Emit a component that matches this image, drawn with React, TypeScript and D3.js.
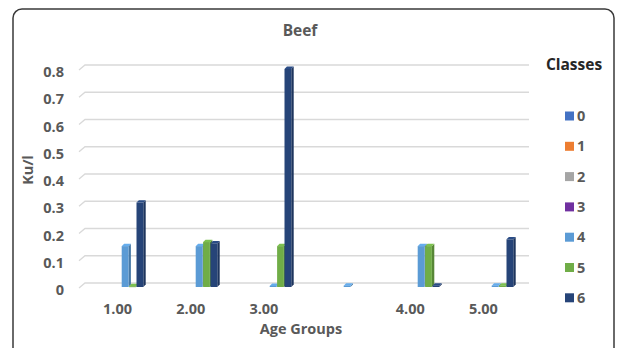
import React from "react";
import * as d3 from "d3";

const categories = ["1.00", "2.00", "3.00", "", "4.00", "5.00"];
const classes = ["0", "1", "2", "3", "4", "5", "6"];
const class0 = [0, 0, 0, 0, 0, 0];
const class1 = [0, 0, 0, 0, 0, 0];
const class2 = [0, 0, 0, 0, 0, 0];
const class3 = [0, 0, 0, 0, 0, 0];
const class4 = [0.15, 0.15, 0.004, 0.005, 0.15, 0.005];
const class5 = [0.003, 0.165, 0.15, 0, 0.15, 0.005];
const class6 = [0.31, 0.16, 0.8, 0, 0.005, 0.175];
const yTicks = [0, 0.1, 0.2, 0.3, 0.4, 0.5, 0.6, 0.7, 0.8];
const colors = ["#4472C4", "#ED7D31", "#A5A5A5", "#7030A0", "#5B9BD5", "#70AD47", "#264478"];

const series = [class0, class1, class2, class3, class4, class5, class6];

const FONT = "'Open Sans', sans-serif";

export default function App() {
  const W = 626, H = 348;
  const x0 = d3.scaleBand<string>().domain(categories.map((c, i) => String(i))).range([81, 525]).padding(0);
  const xl = x0.copy().range([81, 520]);
  const x1 = d3.scaleBand<string>().domain(classes).range([0, x0.bandwidth()]).paddingInner(0).paddingOuter(1.5);
  const y = d3.scaleLinear().domain([0, 0.8]).range([287, 69]);
  const depth = 4;

  const bars: React.ReactNode[] = [];
  series.forEach((vals, si) => {
    const col = d3.color(colors[si])!;
    const side = col.darker(0.7).formatHex();
    const top = col.brighter(0.3).formatHex();
    vals.forEach((v, ci) => {
      if (v <= 0) return;
      const bx = x0(String(ci))! + x1(classes[si])!;
      const w = x1.bandwidth() - 0.6;
      const yt = y(v);
      const yb = y(0);
      const d = 2.4;
      bars.push(
        <g key={`b${si}-${ci}`}>
          <polygon points={`${bx + w},${yt} ${bx + w + d},${yt - d} ${bx + w + d},${yb - d} ${bx + w},${yb}`} fill={side} />
          <polygon points={`${bx},${yt} ${bx + d},${yt - d} ${bx + w + d},${yt - d} ${bx + w},${yt}`} fill={top} />
          <rect x={bx} y={yt} width={w} height={Math.max(1, yb - yt)} fill={colors[si]} />
        </g>
      );
    });
  });

  return (
    <svg width={W} height={H} style={{ position: "absolute", left: 0, top: 0, background: "#fff" }}>
      <rect x={13} y={9} width={601} height={360} rx={9} fill="#fff" stroke="#3a3a3a" strokeWidth={1.5} />
      <text x={300} y={31} dy="0.35em" textAnchor="middle" fontFamily={FONT} fontWeight={700} fontSize={15.5} fill="#595959">Beef</text>
      {yTicks.map((t) => {
        const yy = y(t) - depth;
        return (
          <g key={`g${t}`}>
            <polyline points={`79,${yy + 5} 85,${yy} 529,${yy}`} fill="none" stroke="#d9d9d9" strokeWidth={1.3} />
            <text x={64} y={yy + 7} dy="0.35em" textAnchor="end" fontFamily={FONT} fontWeight={700} fontSize={14.5} fill="#595959">{String(t)}</text>
          </g>
        );
      })}
      {bars}
      {categories.map((c, i) => (
        <text key={`c${i}`} x={xl(String(i))! + xl.bandwidth() / 2} y={309} dy="0.35em" textAnchor="middle" fontFamily={FONT} fontWeight={700} fontSize={14.5} fill="#595959">{c}</text>
      ))}
      <text x={301} y={329} dy="0.35em" textAnchor="middle" fontFamily={FONT} fontWeight={700} fontSize={14.5} fill="#595959">Age Groups</text>
      <text transform="translate(28,170) rotate(-90)" dy="0.35em" textAnchor="middle" fontFamily={FONT} fontWeight={700} fontSize={14.5} fill="#595959">Ku/l</text>
      <text x={574} y={65} dy="0.35em" textAnchor="middle" fontFamily={FONT} fontWeight={700} fontSize={15.5} fill="#262626">Classes</text>
      {classes.map((c, i) => {
        const ly = 116 + i * 30.3;
        return (
          <g key={`l${c}`}>
            <rect x={565} y={ly - 4.5} width={9} height={9} fill={colors[i]} />
            <text x={577} y={ly} dy="0.35em" fontFamily={FONT} fontWeight={700} fontSize={14.5} fill="#595959">{c}</text>
          </g>
        );
      })}
    </svg>
  );
}
